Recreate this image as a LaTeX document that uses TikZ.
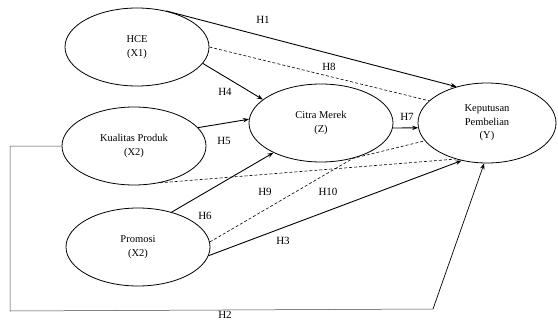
\documentclass[tikz,border=0pt]{standalone}
\usepackage{fontspec}
\setmainfont{Liberation Serif}
\usepackage{tikz}
\usetikzlibrary{arrows.meta, shapes.geometric, calc}

\begin{document}
\begin{tikzpicture}[
  x=1pt, y=-1pt,
  var/.style={draw, ellipse, line width=0.8pt, minimum width=144pt, minimum height=78pt, inner sep=0pt, align=center, font=\fontsize{10.5}{13.5}\selectfont},
  arr/.style={-{Stealth[length=6pt, width=4.5pt]}, line width=0.9pt},
  med/.style={dashed, dash pattern=on 3pt off 2pt, line width=0.6pt},
  hyp/.style={font=\fontsize{11}{13}\selectfont}
]
  \useasboundingbox (0,0) rectangle (558,322);

  % variables
  \node[var] (hce)   at (137,47)  {HCE\\(X1)};
  \node[var] (kual)  at (134,146) {Kualitas Produk\\(X2)};
  \node[var] (promo) at (138,247) {Promosi\\(X2)};
  \node[var] (citra) at (321,123) {Citra Merek\\(Z)};
  \node[var, minimum width=138pt, minimum height=80pt] (kep) at (487,123) {Keputusan\\Pembelian\\(Y)};

  % direct paths
  \draw[arr] (hce.51) -- (kep.130);
  \draw[arr] (hce.-14) -- (citra.158);
  \draw[arr] (kual.16) -- (citra.177);
  \draw[arr] (citra.-4) -- (kep.184);
  \draw[arr] (promo.46) -- (citra.212);
  \draw[arr] (promo.-7) -- (kep.236);

  % mediated paths
  \draw[med] (hce.0) -- (kep.159);
  \draw[med] (kual.-55) -- (kep.229);
  \draw[med] (promo.4) -- (citra.-48) -- (kep.196);

  % H2 around the left and bottom
  \coordinate (bl) at (10,311);
  \coordinate (br) at (433,309);
  \draw[line width=0.5pt, black!75] (kual.west) -- (kual.west -| bl) -- (bl) -- (br);
  \draw[arr, line width=0.7pt] (br) -- (kep.266);

  % labels
  \node[hyp] (h1)  at (263,20)  {H1};
  \node[hyp] (h8)  at (329,67)  {H8};
  \node[hyp] (h4)  at (225,92)  {H4};
  \node[hyp] (h5)  at (224,141) {H5};
  \node[hyp] (h7)  at (407,117) {H7};
  \node[hyp] (h6)  at (205,216) {H6};
  \node[hyp] (h9)  at (265,192) {H9};
  \node[hyp] (h10) at (328,192) {H10};
  \node[hyp] (h3)  at (283,241) {H3};
  \node[hyp] (h2)  at (225,315) {H2};
\end{tikzpicture}
\end{document}
